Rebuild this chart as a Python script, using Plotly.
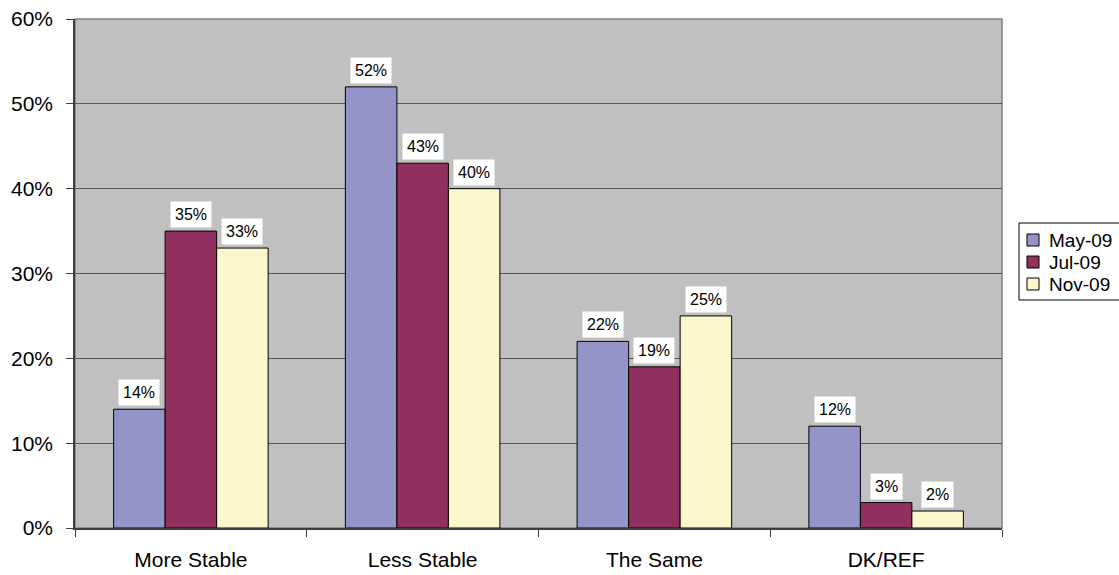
import plotly.graph_objects as go

categories = ["More Stable", "Less Stable", "The Same", "DK/REF"]
series_names = ["May-09", "Jul-09", "Nov-09"]
may_09 = [0.14, 0.52, 0.22, 0.12]
jul_09 = [0.35, 0.43, 0.19, 0.03]
nov_09 = [0.33, 0.40, 0.25, 0.02]
series_values = [may_09, jul_09, nov_09]
colors = ["#9494C8", "#91305E", "#FAF7CD"]

FONT = "Arial, Liberation Sans, sans-serif"

W, H = 1119, 575
ML, MR, MT, MB = 75, 117, 19, 47
PW, PH = W - ML - MR, H - MT - MB


def px_x(p):
    return (p - ML) / PW


def px_y(p):
    return (H - MB - p) / PH


fig = go.Figure()
for name, vals, col in zip(series_names, series_values, colors):
    fig.add_trace(go.Bar(
        x=categories, y=vals, name=name,
        marker=dict(color=col, line=dict(color="#000000", width=1)),
    ))

bargap = 1 / 3
bw = (1 - bargap) / 3
offsets = [-bw, 0, bw]
for si, vals in enumerate(series_values):
    for ci, v in enumerate(vals):
        fig.add_annotation(
            x=ci + offsets[si], y=v, xref="x", yref="y",
            text=f"{round(v*100)}%", showarrow=False,
            yanchor="bottom", yshift=3,
            bgcolor="white", borderpad=4,
            font=dict(family=FONT, size=16, color="#000"),
        )

# plot area border (top/right gray)
fig.add_shape(type="rect", xref="paper", yref="paper", x0=0, x1=1, y0=0, y1=1,
              line=dict(color="#808080", width=1.5), layer="below")

# legend (custom, box runs past the right edge as in the reference)
fig.add_shape(type="rect", xref="paper", yref="paper",
              x0=px_x(1019), x1=px_x(1130), y0=px_y(223), y1=px_y(300),
              line=dict(color="#000", width=1), fillcolor="white")
for i, (name, col) in enumerate(zip(series_names, colors)):
    cy = 240 + 22 * i
    fig.add_shape(type="rect", xref="paper", yref="paper",
                  x0=px_x(1027), x1=px_x(1039), y0=px_y(cy - 6), y1=px_y(cy + 6),
                  line=dict(color="#000", width=1), fillcolor=col)
    fig.add_annotation(x=px_x(1047), y=px_y(cy), xref="paper", yref="paper",
                       text=name, showarrow=False, xanchor="left", yanchor="middle",
                       font=dict(family=FONT, size=19, color="#000"))

fig.update_layout(
    width=W, height=H,
    margin=dict(l=ML, r=MR, t=MT, b=MB, autoexpand=False),
    paper_bgcolor="white", plot_bgcolor="#C0C0C0",
    barmode="group", bargap=bargap, bargroupgap=0,
    font=dict(family=FONT, size=21, color="#000"),
    showlegend=False,
    xaxis=dict(
        type="category", tickson="boundaries", ticks="outside", ticklen=7,
        tickcolor="#404040", showline=True, linecolor="#404040", linewidth=1.5,
        showgrid=False, tickfont=dict(size=21), automargin=False,
        ticklabelstandoff=12,
    ),
    yaxis=dict(
        range=[0, 0.6], dtick=0.1, tickformat=".0%", ticks="outside", ticklen=7,
        tickcolor="#404040", showline=True, linecolor="#404040", linewidth=1.5,
        showgrid=True, gridcolor="#555555", gridwidth=1, zeroline=False,
        tickfont=dict(size=21), automargin=False, ticklabelstandoff=9,
    ),
)

fig.write_html(
    "out.html",
    config={"displayModeBar": False},
    post_script="document.body.style.margin='0';document.body.style.overflow='hidden';",
)
